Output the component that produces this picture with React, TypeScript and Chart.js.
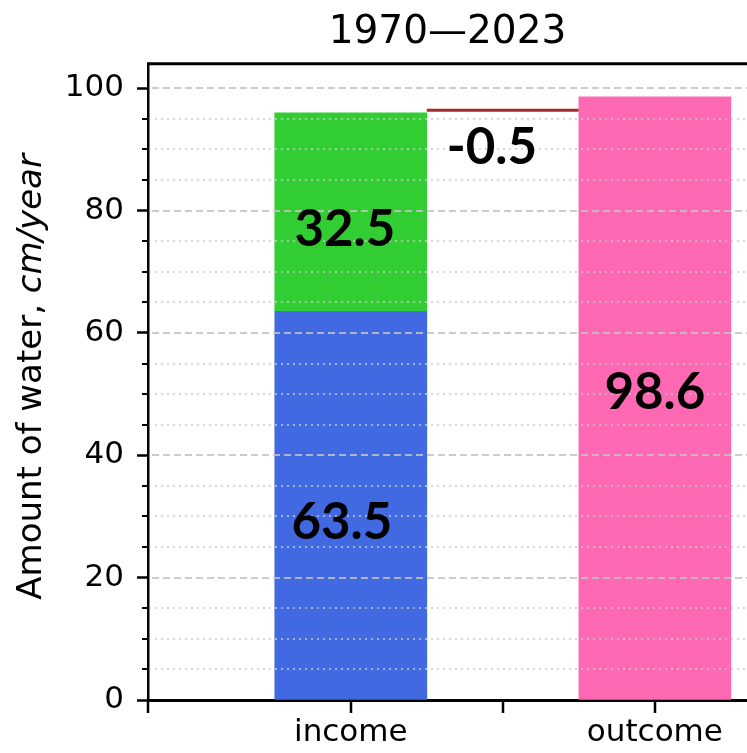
import React, { useEffect, useRef } from 'react';
import { Chart, registerables } from 'chart.js';

Chart.register(...registerables);

// ---- data ----
const title = '1970—2023';
const yAxisTitle = 'Amount of water, ';
const yAxisUnit = 'cm/year';
const categories = ['income', 'outcome'];
const categoryX = [0, 1];
const precipitation = [63.5, 0];
const inflow = [32.5, 0];
const outflow = [0, 98.6];
const balanceText = '-0.5';
const balanceLevel = 96.4;
const yMajorTicks = [0, 20, 40, 60, 80, 100];
const yMinorStep = 5;
const xTickValues = [-0.667, 0, 0.5, 1];
const xRange = [-0.667, 1.303];
const yRange = [0, 104];

// ---- style ----
const FONT = 'DejaVu Sans';
const LABEL_FONT = 'bold 51px Lato';
const BAR_HALF = 0.25; // half bar width in x units
const X_TICK_LEN = 13;
const colors = {
  precipitation: '#4169e1',
  inflow: '#32cd32',
  outflow: '#ff69b4',
  balance: '#a52a2a',
};

const toPoints = (vals: number[]) =>
  categoryX.map((x, i) => ({ x, y: vals[i] })).filter((p) => p.y !== 0);

const decorPlugin = {
  id: 'decor',
  afterDatasetsDraw(chart: any) {
    const { ctx, chartArea: a, scales } = chart;
    const ys = scales.y;
    const top = yMajorTicks[yMajorTicks.length - 1];
    ctx.save();
    for (let v = yMinorStep; v <= top; v += yMinorStep) {
      const py = Math.round(ys.getPixelForValue(v));
      const major = yMajorTicks.includes(v);
      ctx.lineWidth = 2;
      ctx.setLineDash(major ? [7, 4] : [2, 4]);
      ctx.strokeStyle = major ? 'rgba(195,195,195,0.85)' : 'rgba(200,200,200,0.75)';
      ctx.beginPath();
      ctx.moveTo(a.left + (major ? 4 : 7), py);
      ctx.lineTo(a.right, py);
      ctx.stroke();
      if (!major) {
        ctx.setLineDash([]);
        ctx.strokeStyle = '#000';
        ctx.lineWidth = 2;
        ctx.beginPath();
        ctx.moveTo(a.left - 6, py);
        ctx.lineTo(a.left, py);
        ctx.stroke();
      }
    }
    ctx.restore();
  },
  afterDraw(chart: any) {
    const { ctx, chartArea: a, scales } = chart;
    const xs = scales.x;
    const ys = scales.y;
    ctx.save();
    // top spine
    ctx.strokeStyle = '#000';
    ctx.lineWidth = 3;
    ctx.beginPath();
    ctx.moveTo(a.left - 1, a.top);
    ctx.lineTo(a.right, a.top);
    ctx.stroke();

    // x tick marks
    ctx.lineWidth = 2.5;
    xTickValues.forEach((v) => {
      const px = Math.round(xs.getPixelForValue(v));
      ctx.beginPath();
      ctx.moveTo(px, a.bottom);
      ctx.lineTo(px, a.bottom + X_TICK_LEN);
      ctx.stroke();
    });

    // value labels
    ctx.fillStyle = '#000';
    ctx.font = LABEL_FONT;
    ctx.textAlign = 'center';
    ctx.textBaseline = 'middle';
    const x0 = xs.getPixelForValue(categoryX[0]);
    const x1 = xs.getPixelForValue(categoryX[1]);
    ctx.fillText(String(precipitation[0]), x0 - 9, ys.getPixelForValue(precipitation[0] / 2) + 17);
    ctx.fillText(String(inflow[0]), x0 - 6, ys.getPixelForValue(precipitation[0] + inflow[0] / 2) + 17);
    ctx.fillText(String(outflow[1]), x1, ys.getPixelForValue(outflow[1] / 2) - 6);
    ctx.fillText(balanceText, xs.getPixelForValue((categoryX[0] + categoryX[1]) / 2) - 11, ys.getPixelForValue(balanceLevel) + 37);

    // y-axis title with italic unit
    const normalFont = `34px "${FONT}"`;
    const italicFont = `oblique 34px "${FONT}"`;
    ctx.font = normalFont;
    const w1 = ctx.measureText(yAxisTitle).width;
    ctx.font = italicFont;
    const w2 = ctx.measureText(yAxisUnit).width;
    ctx.translate(32, (a.top + a.bottom) / 2 - 5);
    ctx.rotate(-Math.PI / 2);
    ctx.textAlign = 'left';
    ctx.textBaseline = 'middle';
    const start = -(w1 + w2) / 2;
    ctx.font = normalFont;
    ctx.fillText(yAxisTitle, start, 0);
    ctx.font = italicFont;
    ctx.fillText(yAxisUnit, start + w1, 0);
    ctx.restore();
  },
};

export default function App() {
  const ref = useRef<HTMLCanvasElement | null>(null);
  useEffect(() => {
    if (!ref.current) return;
    Chart.defaults.font.family = FONT;
    // The bar ruler uses the smallest tick spacing (0.5 units); a full-width
    // bar therefore spans 2 * BAR_HALF units.
    const barPct = (2 * BAR_HALF) / 0.5;
    const barCommon = {
      type: 'bar',
      stack: 'w',
      categoryPercentage: barPct,
      barPercentage: 1,
      borderWidth: 0,
    };
    const chart = new Chart(ref.current, {
      type: 'bar',
      data: {
        datasets: [
          { ...barCommon, label: 'precipitation', data: toPoints(precipitation), backgroundColor: colors.precipitation } as any,
          { ...barCommon, label: 'inflow', data: toPoints(inflow), backgroundColor: colors.inflow } as any,
          { ...barCommon, label: 'outflow', data: toPoints(outflow), backgroundColor: colors.outflow } as any,
          {
            type: 'line',
            label: 'balance',
            data: [
              { x: categoryX[0] + BAR_HALF, y: balanceLevel },
              { x: categoryX[1] - BAR_HALF, y: balanceLevel },
            ],
            borderColor: colors.balance,
            borderWidth: 3,
            pointRadius: 0,
            stack: 'balance',
          } as any,
        ],
      },
      options: {
        responsive: true,
        maintainAspectRatio: false,
        animation: false,
        layout: { padding: 0 },
        plugins: {
          legend: { display: false },
          tooltip: { enabled: false },
          title: {
            display: true,
            text: title,
            fullSize: false,
            color: '#000',
            font: { family: FONT, size: 39, weight: 'normal' },
            padding: { top: 9, bottom: 8 },
          },
        },
        scales: {
          x: {
            type: 'linear',
            min: xRange[0],
            max: xRange[1],
            offset: false,
            z: 1,
            afterBuildTicks: (s: any) => {
              s.ticks = xTickValues.map((v) => ({ value: v }));
            },
            afterFit: (s: any) => {
              s.height = 53;
            },
            grid: {
              display: true,
              offset: false,
              drawOnChartArea: false,
              drawTicks: false,
            },
            border: { display: true, color: '#000', width: 3 },
            ticks: {
              autoSkip: false,
              maxRotation: 0,
              color: '#000',
              padding: 1 + X_TICK_LEN,
              font: { family: FONT, size: 31 },
              callback: (v: any) => {
                const i = categoryX.indexOf(Number(v));
                return i >= 0 ? categories[i] : '';
              },
            },
          },
          y: {
            type: 'linear',
            stacked: true,
            min: yRange[0],
            max: yRange[1],
            z: 1,
            afterBuildTicks: (s: any) => {
              s.ticks = yMajorTicks.map((v) => ({ value: v }));
            },
            afterFit: (s: any) => {
              s.width = 148;
            },
            grid: {
              display: true,
              drawOnChartArea: false,
              drawTicks: true,
              tickLength: 11,
              tickWidth: 2.5,
              tickColor: '#000',
            },
            border: { display: true, color: '#000', width: 2.5 },
            ticks: {
              autoSkip: false,
              color: '#000',
              padding: 13,
              font: { family: FONT, size: 31 },
            },
          },
        },
      },
      plugins: [decorPlugin],
    });
    return () => chart.destroy();
  }, []);

  return (
    <div style={{ position: 'absolute', left: 0, top: 0, width: 747, height: 753, background: '#fff' }}>
      <canvas ref={ref} />
    </div>
  );
}
